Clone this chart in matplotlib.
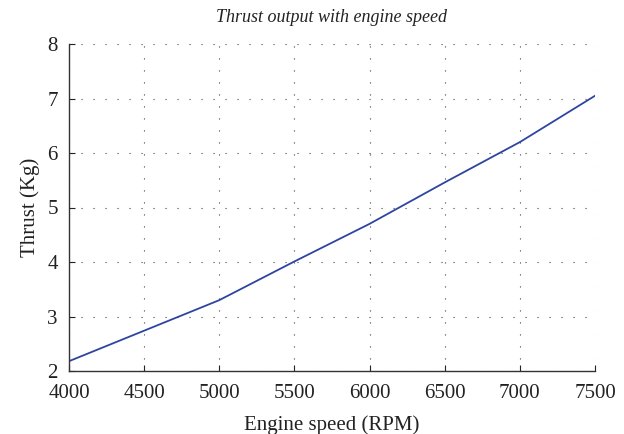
import matplotlib
matplotlib.use("Agg")
import matplotlib.pyplot as plt

# Engine speed (RPM) vs measured thrust (Kg)
rpm = [4000, 4500, 5000, 5500, 6000, 6500, 7000, 7500]
thrust = [2.18, 2.74, 3.30, 4.01, 4.70, 5.46, 6.20, 7.05]

xticks = [4000, 4500, 5000, 5500, 6000, 6500, 7000, 7500]
yticks = [2, 3, 4, 5, 6, 7, 8]

plt.rcParams['font.family'] = ['Liberation Serif', 'DejaVu Serif']

fig = plt.figure(figsize=(6.24, 4.34), dpi=100)
ax = fig.add_axes([69 / 624, 63 / 434, 526 / 624, 327 / 434])

ax.plot(rpm, thrust, color='#2e45a0', linewidth=1.3)

ax.set_xlim(4000, 7500)
ax.set_ylim(2, 8)
ax.set_xticks(xticks)
ax.set_yticks(yticks)
ax.tick_params(direction='in', length=4, labelsize=15, colors='#222222')
ax.tick_params(axis='x', pad=9.5)
ax.tick_params(axis='y', pad=8)
ax.grid(True, linestyle=(0, (1, 9.8)), color='#444444', linewidth=0.8)

for side in ('top', 'right'):
    ax.spines[side].set_visible(False)
for side in ('left', 'bottom'):
    ax.spines[side].set_color('#333333')
    ax.spines[side].set_linewidth(1.0)

ax.set_xlabel('Engine speed (RPM)', fontsize=15, color='#222222', labelpad=9)
ax.set_ylabel('Thrust (Kg)', fontsize=15, color='#222222', labelpad=5)
ax.set_title('Thrust output with engine speed', fontsize=13, style='italic',
             color='#222222', pad=16)

fig.savefig('out.png', dpi=100)
